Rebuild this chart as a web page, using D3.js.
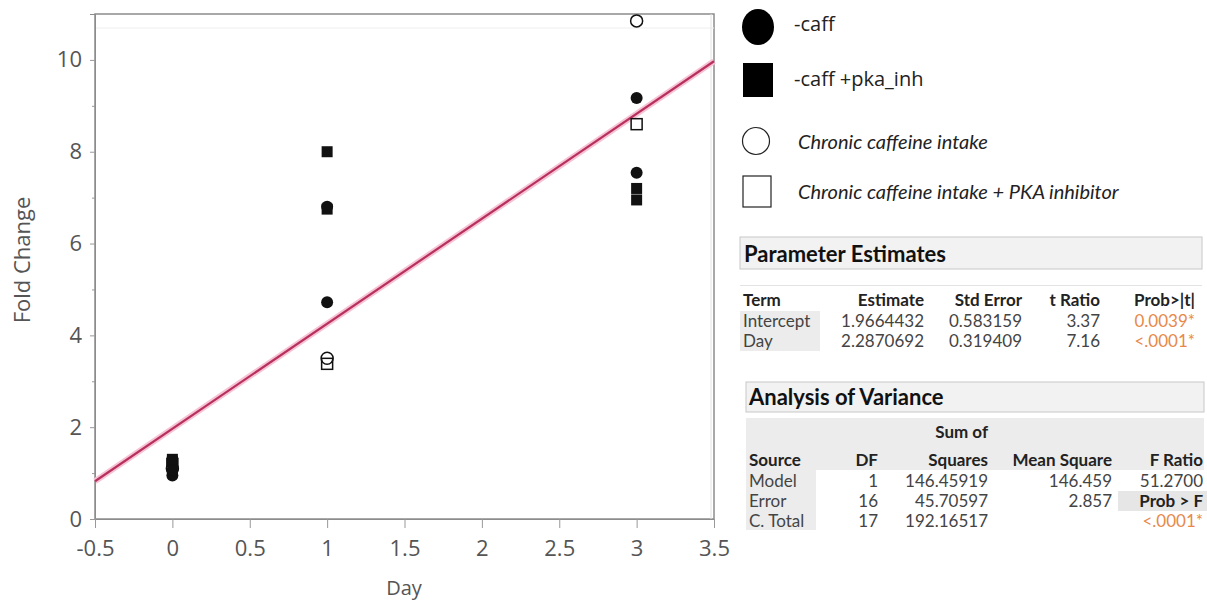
<!DOCTYPE html>
<html>
<head>
<meta charset="utf-8">
<script src="https://cdn.jsdelivr.net/npm/d3@7"></script>
<style>
  body { margin: 0; background: #fff; }
  svg { display: block; font-family: "Open Sans", sans-serif; }
</style>
</head>
<body>
<div id="chart"></div>
<script>
// data
const caffDay        = [0, 0, 1, 1, 3, 3];
const caffVal        = [0.95, 1.05, 6.8, 4.72, 9.17, 7.54];
const pkaDay         = [0, 0, 1, 1, 3, 3];
const pkaVal         = [1.25, 1.3, 8.0, 6.75, 7.2, 6.95];
const chronicDay     = [0, 1, 3];
const chronicVal     = [1.1, 3.5, 10.85];
const chronicPkaDay  = [0, 1, 3];
const chronicPkaVal  = [1.2, 3.38, 8.6];

const fitCoef  = [1.9664432, 2.2870692]; // intercept, slope
const xTicks   = [-0.5, 0, 0.5, 1, 1.5, 2, 2.5, 3, 3.5];
const yTicks   = [0, 2, 4, 6, 8, 10];
const yMinor   = [1, 3, 5, 7, 9];

const legendLabels = ["-caff", "-caff +pka_inh", "Chronic caffeine intake", "Chronic caffeine intake + PKA inhibitor"];

const peHeader = ["Term", "Estimate", "Std Error", "t Ratio", "Prob>|t|"];
const peRows = [
  ["Intercept", "1.9664432", "0.583159", "3.37", "0.0039*"],
  ["Day",       "2.2870692", "0.319409", "7.16", "<.0001*"]
];
const avHeader1 = ["", "", "Sum of", "", ""];
const avHeader2 = ["Source", "DF", "Squares", "Mean Square", "F Ratio"];
const avRows = [
  ["Model",    "1",  "146.45919", "146.459", "51.2700"],
  ["Error",    "16", "45.70597",  "2.857",   "Prob > F"],
  ["C. Total", "17", "192.16517", "",        "<.0001*"]
];

const W = 1207, H = 602;
const svg = d3.select("#chart").append("svg").attr("width", W).attr("height", H);

const plot = { left: 95, right: 714, top: 14, bottom: 519 };
const x = d3.scaleLinear().domain([-0.5, 3.5]).range([plot.left, plot.right]);
const y = d3.scaleLinear().domain([0, 11]).range([plot.bottom, plot.top]);

// frame
svg.append("rect")
  .attr("x", plot.left).attr("y", plot.top)
  .attr("width", plot.right - plot.left).attr("height", plot.bottom - plot.top)
  .attr("fill", "#fff").attr("stroke", "#8c8c8c").attr("stroke-width", 1.5);
svg.append("line")
  .attr("x1", plot.left).attr("x2", plot.right)
  .attr("y1", plot.top + 14).attr("y2", plot.top + 14)
  .attr("stroke", "#eeeeee");
svg.append("line")
  .attr("x1", plot.right - 3).attr("x2", plot.right - 3)
  .attr("y1", plot.top).attr("y2", plot.bottom)
  .attr("stroke", "#e2e2e2");

// sumbu y
svg.append("g")
  .attr("transform", `translate(${plot.left},0)`)
  .call(d3.axisLeft(y).tickValues(yTicks).tickSize(5).tickPadding(8).tickFormat(d3.format("d")));
svg.append("g")
  .attr("transform", `translate(${plot.left},0)`)
  .call(d3.axisLeft(y).tickValues(yMinor).tickSize(3).tickFormat(""))
  .call(g => g.select(".domain").remove());

// sumbu x
svg.append("g")
  .attr("transform", `translate(0,${plot.bottom})`)
  .call(d3.axisBottom(x).tickValues(xTicks).tickSize(9).tickPadding(12).tickFormat(d => d));

svg.selectAll(".domain").attr("stroke", "#8c8c8c");
svg.selectAll(".tick line").attr("stroke", "#999");
svg.selectAll(".tick text")
  .attr("fill", "#555").style("font-size", "22px").style("font-family", "Open Sans, sans-serif");

// label sumbu
svg.append("text")
  .attr("transform", `translate(30,260) rotate(-90)`)
  .attr("text-anchor", "middle")
  .attr("fill", "#555").attr("font-size", "22px")
  .text("Fold Change");
svg.append("text")
  .attr("x", 404).attr("y", 595)
  .attr("text-anchor", "middle")
  .attr("fill", "#555").attr("font-size", "20px")
  .text("Day");

// garis regresi
const fit = d => fitCoef[0] + fitCoef[1] * d;
const xd = x.domain();
svg.append("line")
  .attr("x1", x(xd[0])).attr("y1", y(fit(xd[0])))
  .attr("x2", x(xd[1])).attr("y2", y(fit(xd[1])))
  .attr("stroke", "#f6c3d4").attr("stroke-width", 6);
svg.append("line")
  .attr("x1", x(xd[0])).attr("y1", y(fit(xd[0])))
  .attr("x2", x(xd[1])).attr("y2", y(fit(xd[1])))
  .attr("stroke", "#b8305e").attr("stroke-width", 2.2);

// titik
const pts = (days, vals) => days.map((d, i) => ({ d, v: vals[i] }));

svg.selectAll(".open-sq").data(pts(chronicPkaDay, chronicPkaVal)).enter()
  .append("rect")
  .attr("x", p => x(p.d) - 5.5).attr("y", p => y(p.v) - 5.5)
  .attr("width", 11).attr("height", 11)
  .attr("fill", "#fff").attr("stroke", "#111").attr("stroke-width", 1.5);

svg.selectAll(".open-c").data(pts(chronicDay, chronicVal)).enter()
  .append("circle")
  .attr("cx", p => x(p.d)).attr("cy", p => y(p.v)).attr("r", 6)
  .attr("fill", "none").attr("stroke", "#111").attr("stroke-width", 1.5);

svg.selectAll(".fill-sq").data(pts(pkaDay, pkaVal)).enter()
  .append("rect")
  .attr("x", p => x(p.d) - 5.5).attr("y", p => y(p.v) - 5.5)
  .attr("width", 11).attr("height", 11)
  .attr("fill", "#111");

svg.selectAll(".fill-c").data(pts(caffDay, caffVal)).enter()
  .append("circle")
  .attr("cx", p => x(p.d)).attr("cy", p => y(p.v)).attr("r", 6)
  .attr("fill", "#111");

// legenda
const lg = svg.append("g");
lg.append("ellipse").attr("cx", 758).attr("cy", 27).attr("rx", 16).attr("ry", 18).attr("fill", "#000");
lg.append("rect").attr("x", 743).attr("y", 63).attr("width", 30).attr("height", 34).attr("fill", "#000");
lg.append("circle").attr("cx", 756).attr("cy", 141).attr("r", 13.5)
  .attr("fill", "#fff").attr("stroke", "#222").attr("stroke-width", 1.2);
lg.append("rect").attr("x", 743).attr("y", 176).attr("width", 28).attr("height", 31)
  .attr("fill", "#fff").attr("stroke", "#222").attr("stroke-width", 1.2);

const legendPos = [[794, 31, false], [794, 86, false], [798, 149, true], [798, 199, true]];
legendLabels.forEach((t, i) => {
  lg.append("text")
    .attr("x", legendPos[i][0]).attr("y", legendPos[i][1])
    .attr("font-size", legendPos[i][2] ? "20px" : "20px")
    .attr("fill", "#222")
    .attr("font-style", legendPos[i][2] ? "italic" : "normal")
    .attr("font-family", legendPos[i][2] ? "Lato, sans-serif" : "Open Sans, sans-serif")
    .text(t);
});

// tabel
const ORANGE = "#e8894a";
const txt = (x0, y0, s, opt = {}) => svg.append("text")
  .attr("x", x0).attr("y", y0)
  .attr("text-anchor", opt.anchor || "start")
  .attr("font-size", opt.size || "17px")
  .attr("font-weight", opt.bold ? "700" : "400")
  .attr("fill", opt.color || "#333")
  .attr("font-family", "Lato, sans-serif")
  .text(s);

// Parameter Estimates
svg.append("rect").attr("x", 740).attr("y", 237).attr("width", 462).attr("height", 32)
  .attr("fill", "#f2f2f2").attr("stroke", "#c8c8c8");
txt(744, 262, "Parameter Estimates", { size: "22px", bold: true, color: "#111" });
svg.append("rect").attr("x", 740).attr("y", 285).attr("width", 462).attr("height", 0.8).attr("fill", "#ddd");
svg.append("rect").attr("x", 740).attr("y", 311).attr("width", 80).attr("height", 40).attr("fill", "#ececec");

const peX = [743, 924, 1022, 1100, 1195];
peHeader.forEach((h, j) => txt(peX[j], 306, h, { anchor: j ? "end" : "start", bold: true, color: "#222" }));
peRows.forEach((r, i) => {
  r.forEach((v, j) => txt(peX[j], 327 + i * 20, v, {
    anchor: j ? "end" : "start",
    color: j === 4 ? ORANGE : "#444"
  }));
});

// Analysis of Variance
svg.append("rect").attr("x", 746).attr("y", 382).attr("width", 458).attr("height", 30)
  .attr("fill", "#f2f2f2").attr("stroke", "#c8c8c8");
txt(749, 405, "Analysis of Variance", { size: "22px", bold: true, color: "#111" });
svg.append("rect").attr("x", 746).attr("y", 418).attr("width", 458).attr("height", 52).attr("fill", "#ececec");
svg.append("rect").attr("x", 746).attr("y", 470).attr("width", 70).attr("height", 60).attr("fill", "#ececec");
svg.append("rect").attr("x", 1118).attr("y", 491).attr("width", 89).attr("height", 20).attr("fill", "#e6e6e6");

const avX = [749, 878, 988, 1112, 1203];
avHeader1.forEach((h, j) => { if (h) txt(avX[j], 438, h, { anchor: "end", bold: true, color: "#222" }); });
avHeader2.forEach((h, j) => txt(avX[j], 466, h, { anchor: j ? "end" : "start", bold: true, color: "#222" }));
avRows.forEach((r, i) => {
  r.forEach((v, j) => {
    if (!v) return;
    const isProb = v === "Prob > F";
    txt(avX[j], 487 + i * 20, v, {
      anchor: j ? "end" : "start",
      bold: isProb,
      color: v.startsWith("<") ? ORANGE : (isProb ? "#222" : "#444")
    });
  });
});
</script>
</body>
</html>
